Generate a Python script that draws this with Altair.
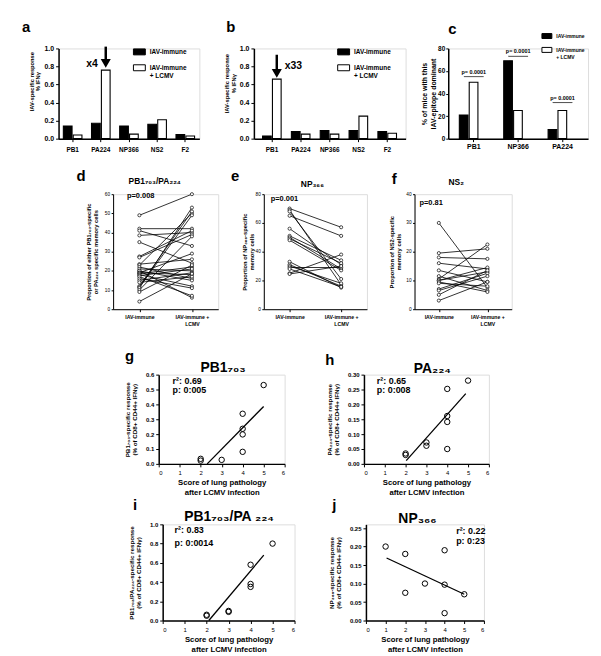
import altair as alt
import pandas as pd

F = "Liberation Sans"

# ---------------- data ----------------
groups = ["IAV-immune", "IAV-immune + LCMV"]

ab_cats = ["PB1", "PA224", "NP366", "NS2", "F2"]
a_immune = [0.14, 0.17, 0.14, 0.16, 0.045]
a_lcmv = [0.04, 0.76, 0.05, 0.21, 0.03]
b_immune = [0.03, 0.08, 0.09, 0.09, 0.08]
b_lcmv = [0.66, 0.05, 0.05, 0.25, 0.06]
ab_ticks = [0.0, 0.2, 0.4, 0.6, 0.8, 1.0]

# fold-change arrows: category, shaft top, arrow head, label, label level
a_arrow = ["PA224", 1.02, 0.84, "x4", 0.83]
b_arrow = ["PB1", 0.93, 0.73, "x33", 0.81]

c_cats = ["PB1", "NP366", "PA224"]
c_immune = [21, 69, 8]
c_lcmv = [50, 25, 25]
c_bracket = [55, 73, 32]
c_ptext = ["p= 0.0001", "p= 0.0001", "p= 0.0001"]
c_ticks = [0, 20, 40, 60, 80]

pair_groups = ["IAV-immune", "IAV-immune +|LCMV"]
d_before = [49, 42, 41, 38.5, 35, 27.5, 27, 23.5, 23, 22, 21, 20, 20, 19, 19, 18.5, 18, 17.5, 17, 16, 15, 14, 12, 11.5, 11, 10, 9, 4]
d_after = [60, 42, 33, 40, 24, 41, 39, 26, 50, 16, 20, 15, 6, 29, 18, 22, 12, 21, 7, 11, 19, 17, 51, 49, 53, 38, 23, 18.5]
d_ticks = [0, 10, 20, 30, 40, 50, 60]
e_before = [70, 69, 68, 65, 56, 51, 50, 49, 48, 33, 31, 30, 29, 28, 25, 24.5]
e_after = [57, 17, 21, 51, 31, 34, 28, 32, 27, 15, 16, 18, 29, 15.5, 38, 30]
e_ticks = [0, 20, 40, 60, 80]
f_before = [30, 19.5, 18, 16, 13.5, 11.5, 10.5, 10, 10, 9.5, 9, 7, 6.5, 5, 3]
f_after = [7.5, 21, 17.5, 14, 9.5, 6.5, 22.5, 13, 14.5, 6, 8, 12.5, 11.5, 13.5, 9.5]
f_ticks = [0, 10, 20, 30, 40]

score_ticks = [0, 1, 2, 3, 4, 5, 6]
g_x = [2, 2, 3, 4, 4, 4, 4, 5]
g_y = [0.022, 0.034, 0.027, 0.081, 0.198, 0.236, 0.337, 0.53]
g_fit_x = [2.31, 5.0]
g_fit_y = [0.0, 0.386]
g_ticks = [0.0, 0.1, 0.2, 0.3, 0.4, 0.5, 0.6]

h_x = [2, 2, 3, 3, 4, 4, 4, 4, 5]
h_y = [0.03, 0.035, 0.072, 0.061, 0.252, 0.161, 0.141, 0.05, 0.28]
h_fit_x = [2.03, 4.89]
h_fit_y = [0.011, 0.236]
h_ticks = [0.0, 0.05, 0.10, 0.15, 0.20, 0.25, 0.30]

i_x = [2, 2, 3, 3, 4, 4, 4, 5]
i_y = [0.05, 0.06, 0.10, 0.09, 0.58, 0.38, 0.35, 0.80]
i_fit_x = [2.1, 4.6]
i_fit_y = [0.0, 0.68]
i_ticks = [0.0, 0.2, 0.4, 0.6, 0.8, 1.0]

j_x = [1, 2, 2, 3, 4, 4, 4, 5]
j_y = [0.20, 0.18, 0.075, 0.10, 0.19, 0.097, 0.02, 0.071]
j_fit_x = [1.05, 5.0]
j_fit_y = [0.169, 0.071]
j_ticks = [0.0, 0.05, 0.10, 0.15, 0.20, 0.25]

# ---------------- helpers ----------------
def axis(**kw):
    base = dict(labelFont=F, labelColor="black", titleFont=F, titleColor="black",
                domainColor="black", tickColor="black", grid=False,
                labelFontWeight="bold", titleFontWeight="bold")
    base.update(kw)
    return alt.Axis(**base)


def frame(w, h, L, R, T, B):
    return alt.Chart(pd.DataFrame({"f": [0]})).mark_rect(
        fill="white", fillOpacity=0, strokeOpacity=0).encode(
        x=alt.value(-L), x2=alt.value(w + R), y=alt.value(-T), y2=alt.value(h + B))


def txt(s, x, y, size, align="left", weight="bold", baseline="alphabetic", lh=None):
    kw = dict(font=F, fontSize=size, fontWeight=weight, align=align,
              baseline=baseline, color="black", lineBreak="|")
    if lh:
        kw["lineHeight"] = lh
    return alt.Chart(pd.DataFrame({"t": [s]})).mark_text(**kw).encode(
        x=alt.value(x), y=alt.value(y), text="t:N")


def letter(s, x, y):
    return txt(s, x, y, 15)


def spacer():
    return alt.Chart(pd.DataFrame({"z": [0]})).mark_point(size=0, opacity=0).properties(width=1, height=1)


def bar_panel(cats, imm, lcm, ymax, yticks, yfmt, w, h, pin, pout, ytitle, ytsize, ytpad, ylh,
              ylab, ylabpad, ytick, xlab, xpad, leg_x, leg_y, leg_fs, sym, leg_rowpad, leg_expr,
              let, lxy, frm, extra, title_y=None):
    df = pd.DataFrame({"cat": cats + cats,
                       "grp": [groups[0]] * len(cats) + [groups[1]] * len(cats),
                       "val": imm + lcm})
    X = alt.X("cat:N", sort=cats, title=None,
              scale=alt.Scale(paddingInner=pin, paddingOuter=pout),
              axis=axis(labelAngle=0, labelFontSize=xlab, labelPadding=xpad, tickSize=3,
                        tickWidth=1, domainWidth=1.5))
    XO = alt.XOffset("grp:N", sort=groups, scale=alt.Scale(paddingInner=0.12))
    yax = dict(values=yticks, format=yfmt, labelFontSize=ylab, labelPadding=ylabpad,
               tickSize=ytick, tickWidth=1, domainWidth=1.5, titleFontSize=ytsize,
               titlePadding=ytpad, titleLineHeight=ylh)
    if title_y is not None:
        yax["titleY"] = title_y
    Y = alt.Y("val:Q", title=ytitle, scale=alt.Scale(domain=[0, ymax], nice=False),
              axis=axis(**yax))
    legend = alt.Legend(title=None, orient="none", legendX=leg_x, legendY=leg_y, padding=0,
                        direction="vertical", symbolType="M-1,-0.5H1V0.5H-1Z", symbolSize=sym,
                        symbolStrokeColor="black", symbolStrokeWidth=1, symbolOpacity=1,
                        labelFont=F, labelFontSize=leg_fs, labelFontWeight="bold",
                        labelColor="black", labelOffset=4, rowPadding=leg_rowpad,
                        labelLimit=0, labelExpr=leg_expr)
    bars = alt.Chart(df).mark_bar(stroke="black", strokeWidth=1.1, opacity=1).encode(
        x=X, xOffset=XO, y=Y,
        fill=alt.Fill("grp:N", sort=groups,
                      scale=alt.Scale(domain=groups, range=["black", "white"]), legend=legend))
    layers = [frame(w, h, *frm), bars] + extra(X, XO, Y) + [letter(let, *lxy)]
    return alt.layer(*layers).properties(width=w, height=h)


def arrow_extra(arrow, align, dx):
    cat, top, head, label, ly = arrow

    def build(X, XO, Y):
        shaft = alt.Chart(pd.DataFrame({"cat": [cat], "grp": [groups[1]], "val": [top],
                                        "val2": [head]})).mark_bar(
            width=2.5, color="black").encode(x=X, xOffset=XO, y=Y, y2="val2:Q")
        tip = alt.Chart(pd.DataFrame({"cat": [cat], "grp": [groups[1]], "val": [head]})).mark_point(
            shape="triangle-down", filled=True, fill="black", stroke="black", size=45,
            opacity=1).encode(x=X, xOffset=XO, y=Y)
        lab = alt.Chart(pd.DataFrame({"cat": [cat], "grp": [groups[1]], "val": [ly],
                                      "t": [label]})).mark_text(
            font=F, fontSize=10.5, fontWeight="bold", align=align, dx=dx, baseline="middle",
            color="black").encode(x=X, xOffset=XO, y=Y, text="t:N")
        return [shaft, tip, lab]
    return build


def c_extra(X, XO, Y):
    df = pd.DataFrame({"cat": c_cats, "val": c_bracket, "t": c_ptext})
    br = alt.Chart(df).mark_tick(orient="horizontal", size=20, thickness=1, color="black").encode(x=X, y=Y)
    tx = alt.Chart(df).mark_text(font=F, fontSize=5.5, fontWeight="bold", baseline="bottom", dy=-2,
                                 color="black").encode(x=X, y=Y, text="t:N")
    return [br, tx]


def pair_panel(before, after, ymax, yticks, w, h, ytitle, ytpad, title, t_xy, ptext, p_xy,
               let, lxy, frm):
    n = len(before)
    df = pd.DataFrame({"id": list(range(n)) * 2,
                       "grp": [pair_groups[0]] * n + [pair_groups[1]] * n,
                       "val": list(before) + list(after)})
    X = alt.X("grp:N", sort=pair_groups, title=None, scale=alt.Scale(type="point", padding=0.5),
              axis=axis(labelAngle=0, labelExpr="split(datum.label, '|')", labelFontSize=5.2,
                        labelPadding=3, labelLineHeight=7, tickSize=2.5, tickWidth=1, domainWidth=1))
    Y = alt.Y("val:Q", title=ytitle, scale=alt.Scale(domain=[0, ymax], nice=False),
              axis=axis(values=yticks, labelFontSize=4.8, labelFontWeight="normal", labelPadding=1.5,
                        tickSize=2, tickWidth=1, domainWidth=1, titleFontSize=5.8,
                        titlePadding=ytpad, titleLineHeight=7))
    lines = alt.Chart(df).mark_line(color="black", strokeWidth=0.8).encode(x=X, y=Y, detail="id:N")
    pts = alt.Chart(df).mark_point(shape="circle", filled=True, fill="white", stroke="black",
                                   strokeWidth=0.7, size=10, opacity=1).encode(x=X, y=Y)
    layers = [frame(w, h, *frm), lines, pts,
              txt(title, t_xy[0], t_xy[1], 8.5, align="center"),
              txt(ptext, p_xy[0], p_xy[1], 7.5),
              letter(let, *lxy)]
    return alt.layer(*layers).properties(width=w, height=h)


def scatter_panel(xs, ys, fx, fy, ymax, yticks, yfmt, w, h, ytitle, ytpad, title, t_xy,
                  note, n_xy, n_lh, let, lxy, frm):
    df = pd.DataFrame({"sx": xs, "sy": ys})
    fit = pd.DataFrame({"sx": fx, "sy": fy})
    X = alt.X("sx:Q", title=["Score of lung pathology", "after LCMV infection"],
              scale=alt.Scale(domain=[0, 6], nice=False),
              axis=axis(values=score_ticks, format="d", labelFontSize=6, labelFontWeight="normal",
                        labelPadding=3, tickSize=3, tickWidth=1, domainWidth=1.5,
                        titleFontSize=7.8, titlePadding=3, titleLineHeight=10))
    Y = alt.Y("sy:Q", title=ytitle, scale=alt.Scale(domain=[0, ymax], nice=False),
              axis=axis(values=yticks, format=yfmt, labelFontSize=6, labelPadding=2, tickSize=3,
                        tickWidth=1, domainWidth=1.5, titleFontSize=6.3, titlePadding=ytpad,
                        titleLineHeight=7.5))
    pts = alt.Chart(df).mark_point(shape="circle", filled=False, stroke="black", strokeWidth=1,
                                   size=30, opacity=1).encode(x=X, y=Y)
    line = alt.Chart(fit).mark_line(color="black", strokeWidth=1.3).encode(x=X, y=Y)
    layers = [frame(w, h, *frm), line, pts,
              txt(title, t_xy[0], t_xy[1], 14, align="center"),
              txt(note, n_xy[0], n_xy[1], 9, lh=n_lh),
              letter(let, *lxy)]
    return alt.layer(*layers).properties(width=w, height=h)


leg_ab = "datum.label == 'IAV-immune + LCMV' ? ['IAV-immune', '   + LCMV'] : datum.label"
leg_c = "datum.label == 'IAV-immune + LCMV' ? ['IAV-immune', '+ LCMV'] : datum.label"
ab_ytitle = ["IAV-specific response", "% IFN\u03b3"]

pa = bar_panel(ab_cats, a_immune, a_lcmv, 1.0, ab_ticks, ".1f", 142, 91, 0.34, 0.17,
               ab_ytitle, 5.8, 3, 7, 7, 2, 3, 6.5, 5, 75, -3, 6.5, 144, 4, leg_ab,
               "a", (-37, -17), (49, 15, 37, 22), arrow_extra(a_arrow, "right", -8), title_y=33)
pb = bar_panel(ab_cats, b_immune, b_lcmv, 1.0, ab_ticks, ".1f", 153, 91, 0.34, 0.3,
               ab_ytitle, 5.8, 3, 7, 7, 2, 3, 6.5, 5, 84, -3, 6.5, 144, 4, leg_ab,
               "b", (-28, -17), (38, 2, 37, 22), arrow_extra(b_arrow, "left", 8), title_y=35)
pc = bar_panel(c_cats, c_immune, c_lcmv, 80, c_ticks, "d", 141, 91, 0.35, 0.25,
               ["% of mice with this", "IAV-epitope dominant"], 7, 1, 9.5, 6.5, 1, 2.5, 7, 1,
               94, -18, 5, 100, 4, leg_c, "c", (0, -15), (39, 4, 37, 22), c_extra)

pd_ = pair_panel(d_before, d_after, 60, d_ticks, 106, 116,
                 ["Proportion of either PB1\u2087\u2080\u2083-specific",
                  "or PA\u2082\u2082\u2084 specific memory cells"], 6,
                 "PB1\u2087\u2080\u2083/PA\u2082\u2082\u2084", (42, -10), "p=0.008", (14, 4),
                 "d", (-37, -13), (104, 7, 32, 30))
pe = pair_panel(e_before, e_after, 80, e_ticks, 104, 116,
                ["Proportion of NP\u2083\u2086\u2086-specific", "memory cells"], 1,
                "NP\u2083\u2086\u2086", (49, -7), "p=0.001", (7, 7),
                "e", (-33, -13), (37, 16, 32, 30))
pf = pair_panel(f_before, f_after, 40, f_ticks, 98, 116,
                ["Proportion of NS2-specific", "memory cells"], 4,
                "NS\u2082", (42, -9), "p=0.81", (5, 11),
                "f", (-23, -10), (30, 81, 32, 30))

resp2 = "(% of CD8+ CD44+ IFN\u03b3)"
pg = scatter_panel(g_x, g_y, g_fit_x, g_fit_y, 0.6, g_ticks, ".1f", 127, 90,
                   ["PB1\u2087\u2080\u2083-specific response", resp2], 8,
                   "PB1\u2087\u2080\u2083", (65, -3), "r\u00b2: 0.69|p: 0:005", (14, 9), 10,
                   "g", (-34, -14), (150, 19, 34, 32))
ph = scatter_panel(h_x, h_y, h_fit_x, h_fit_y, 0.30, h_ticks, ".2f", 126, 90,
                   ["PA\u2082\u2082\u2084-specific response", resp2], 8,
                   "PA\u2082\u2082\u2084", (69, -2), "r\u00b2: 0.65|p: 0:008", (13, 9), 10,
                   "h", (-39, -10), (59, 102, 34, 32))
pi = scatter_panel(i_x, i_y, i_fit_x, i_fit_y, 1.0, i_ticks, ".1f", 133, 97,
                   ["PB1\u2087\u2080\u2083/PA\u2082\u2082\u2084-specific response", resp2], 8,
                   "PB1\u2087\u2080\u2083/PA \u2082\u2082\u2084", (67, -3), "r\u00b2: 0.83|p: 0:0014",
                   (12, 9), 13, "i", (-30, -14), (154, 9, 26, 31))
pj = scatter_panel(j_x, j_y, j_fit_x, j_fit_y, 0.26, j_ticks, ".2f", 119, 97,
                   ["NP\u2083\u2086\u2086-specific response", resp2], 8,
                   "NP\u2083\u2086\u2086", (52, -1), "r\u00b2: 0.22|p: 0:23", (91, 10), 9.5,
                   "j", (-34, -14), (61, 107, 26, 31))

row1 = alt.hconcat(spacer(), pa, pb, pc, spacing=0).resolve_scale(
    fill="independent").resolve_legend(fill="independent")
row2 = alt.hconcat(spacer(), pd_, pe, pf, spacing=0)
row3 = alt.hconcat(spacer(), pg, ph, spacing=0)
row4 = alt.hconcat(spacer(), pi, pj, spacing=0)

chart = alt.vconcat(row1, row2, row3, row4, spacing=0).resolve_scale(
    fill="independent").resolve_legend(fill="independent").properties(
    padding={"left": 0, "top": 0, "right": 0, "bottom": 0}
).configure_view(stroke=None).configure(background="white")

chart.save("out.html", embed_options={"renderer": "svg", "actions": False})
